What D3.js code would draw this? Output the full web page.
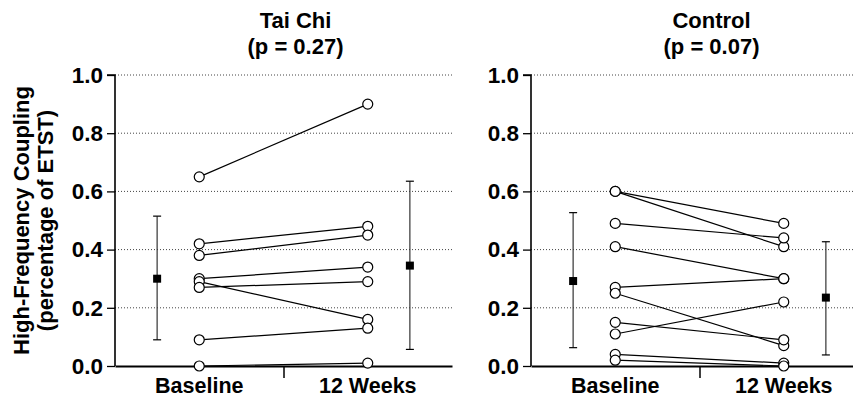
<!DOCTYPE html>
<html>
<head>
<meta charset="utf-8">
<script src="https://cdn.jsdelivr.net/npm/d3@7"></script>
<style>
  body { margin: 0; background: #fff; }
  text { font-family: "Liberation Sans", Arial, sans-serif; font-weight: bold; fill: #000; }
</style>
</head>
<body>
<div id="viz"></div>
<script>
// time points on the x axis
const timeLabels = ["Baseline", "12 Weeks"];
const yTicks = [0, 0.2, 0.4, 0.6, 0.8, 1.0];

// Tai Chi subjects: baseline and 12 weeks
const taiChiBase = [0.65, 0.42, 0.38, 0.30, 0.29, 0.27, 0.09, 0.00];
const taiChiWeek12 = [0.90, 0.48, 0.45, 0.34, 0.16, 0.29, 0.13, 0.01];
// mean, lower, upper of the summary bars
const taiChiSummary = [[0.30, 0.09, 0.515], [0.345, 0.057, 0.635]];

// Control subjects
const controlBase = [0.60, 0.60, 0.49, 0.41, 0.27, 0.25, 0.15, 0.11, 0.04, 0.02];
const controlWeek12 = [0.49, 0.41, 0.44, 0.30, 0.30, 0.07, 0.09, 0.22, 0.01, 0.00];
const controlSummary = [[0.292, 0.063, 0.527], [0.235, 0.038, 0.427]];

const panels = [
  {title: "Tai Chi", p: "(p = 0.27)", base: taiChiBase, week: taiChiWeek12, summary: taiChiSummary, left: 115},
  {title: "Control", p: "(p = 0.07)", base: controlBase, week: controlWeek12, summary: controlSummary, left: 531}
];

const width = 853, height = 397;
const svg = d3.select("#viz").append("svg")
  .attr("width", width)
  .attr("height", height);

// y scale shared by both panels
const y = d3.scaleLinear().domain([0, 1]).range([366, 75]);

panels.forEach(panel => {
  // x positions: 0.5 = baseline summary, 1 = baseline, 3 = 12 weeks, 3.5 = 12 weeks summary
  const x = d3.scaleLinear().domain([0, 4]).range([panel.left, panel.left + 337]);
  const g = svg.append("g");

  // dotted grid lines
  g.selectAll(".grid")
    .data(yTicks.filter(d => d > 0))
    .enter().append("line")
    .attr("x1", x(0)).attr("x2", x(4))
    .attr("y1", d => y(d)).attr("y2", d => y(d))
    .attr("stroke", "#444")
    .attr("stroke-width", 1)
    .attr("stroke-dasharray", "1,2");

  // y axis
  const yAxis = d3.axisLeft(y).tickValues(yTicks).tickFormat(d3.format(".1f")).tickSize(8).tickPadding(4);
  const ya = g.append("g").attr("transform", `translate(${x(0)},0)`).call(yAxis);
  ya.select(".domain").attr("stroke-width", 1.6).attr("d", `M-8,${y(1)}H0V${y(0)}`);
  ya.selectAll(".tick line").attr("stroke-width", 1.3);
  ya.selectAll("text").style("font-size", "22.5px").attr("fill", "#000");

  // x axis with middle tick only
  const xAxis = d3.axisBottom(x).tickValues([2]).tickFormat("").tickSize(12).tickSizeOuter(0);
  const xa = g.append("g").attr("transform", `translate(0,${y(0)})`).call(xAxis);
  xa.select(".domain").attr("stroke-width", 2);
  xa.selectAll(".tick line").attr("stroke-width", 1.5);

  // category labels
  g.selectAll(".xlab")
    .data(timeLabels)
    .enter().append("text")
    .attr("x", (d, i) => x(i === 0 ? 1 : 3))
    .attr("y", 393)
    .attr("text-anchor", "middle")
    .style("font-size", "21.5px")
    .text(d => d);

  // title
  const t = g.append("text")
    .attr("text-anchor", "middle")
    .style("font-size", "22px");
  t.append("tspan").attr("x", x(2) + 12).attr("y", 28).text(panel.title);
  t.append("tspan").attr("x", x(2) + 12).attr("y", 54).text(panel.p);

  // paired lines
  const pairs = panel.base.map((b, i) => [b, panel.week[i]]);
  g.selectAll(".pair")
    .data(pairs)
    .enter().append("line")
    .attr("x1", x(1)).attr("x2", x(3))
    .attr("y1", d => y(d[0])).attr("y2", d => y(d[1]))
    .attr("stroke", "#000")
    .attr("stroke-width", 1.2);

  // open circles
  const pts = [];
  pairs.forEach(d => { pts.push([1, d[0]]); pts.push([3, d[1]]); });
  g.selectAll(".pt")
    .data(pts)
    .enter().append("circle")
    .attr("cx", d => x(d[0]))
    .attr("cy", d => y(d[1]))
    .attr("r", 5)
    .attr("fill", "#fff")
    .attr("stroke", "#000")
    .attr("stroke-width", 1.2);

  // summary: mean with error bar
  panel.summary.forEach((s, i) => {
    const cx = x(i === 0 ? 0.5 : 3.5);
    g.append("line")
      .attr("x1", cx).attr("x2", cx)
      .attr("y1", y(s[1])).attr("y2", y(s[2]))
      .attr("stroke", "#333").attr("stroke-width", 1.2);
    [s[1], s[2]].forEach(v => {
      g.append("line")
        .attr("x1", cx - 4).attr("x2", cx + 4)
        .attr("y1", y(v)).attr("y2", y(v))
        .attr("stroke", "#000").attr("stroke-width", 1.2);
    });
    g.append("rect")
      .attr("x", cx - 4).attr("y", y(s[0]) - 4)
      .attr("width", 8).attr("height", 8)
      .attr("fill", "#000");
  });
});

// y axis title, two lines
const yt = svg.append("text")
  .attr("transform", `translate(0,${(y(0) + y(1)) / 2}) rotate(-90)`)
  .attr("text-anchor", "middle")
  .style("font-size", "22px");
yt.append("tspan").attr("x", 0).attr("y", 29).text("High-Frequency Coupling");
yt.append("tspan").attr("x", 0).attr("y", 53).text("(percentage of ETST)");
</script>
</body>
</html>
